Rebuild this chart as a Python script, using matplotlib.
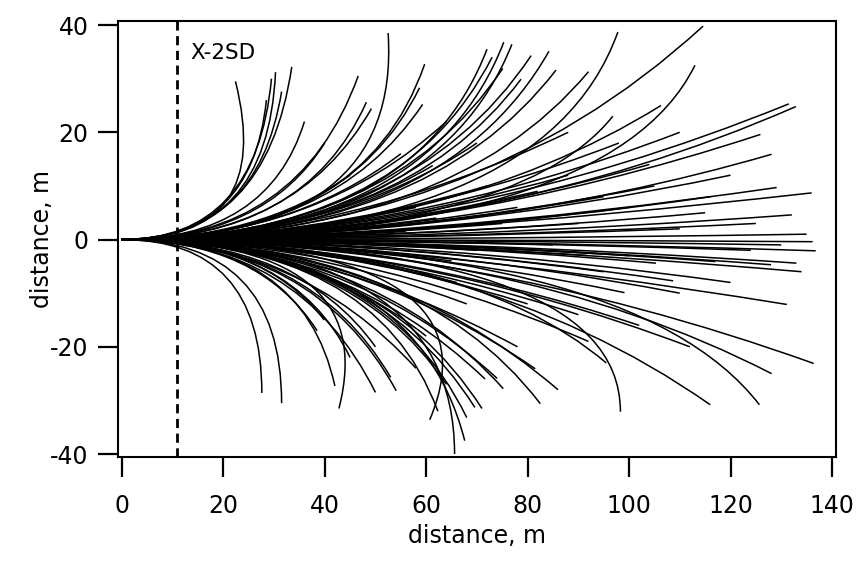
import matplotlib
matplotlib.use("Agg")
import matplotlib.pyplot as plt
from matplotlib.path import Path
from matplotlib.patches import PathPatch

# ---- data: end point of each track (m) and bend of the track (control-point fraction) ----
end_x = [22.4, 30.3, 29.5, 31.5, 33.5, 28.5, 46.6, 48.2, 49.2, 52.5,
         59.7, 58.7, 59.3, 61.3, 75.3, 76.9, 75.1, 80.7, 84.2, 85.6,
         78.7, 92.0, 97.8, 96.8, 114.6, 106.3, 113.0, 131.5, 132.9, 125.9,
         128.1, 129.1, 136.0, 116.2, 132.1,
         136.2, 136.8, 133.0, 117.0, 128.0, 105.3, 108.7, 99.1, 131.1,
         62.0, 70.0, 78.0, 85.0, 90.0, 95.0, 100.0, 110.0, 120.0, 88.0,
         72.0, 66.0, 80.0, 104.0, 120.0, 56.0, 92.0,
         135.0, 130.0, 125.0, 100.0, 95.0, 110.0, 115.0, 75.0, 65.0, 58.0,
         82.0, 68.0, 90.0, 105.0, 124.0, 134.0, 98.0, 110.0, 88.0, 70.0,
         64.0, 55.0, 45.0, 40.0, 36.0, 73.0, 72.0,
         136.4, 128.1, 125.7, 116.0, 98.3, 95.5, 81.5, 82.5, 75.2, 74.0,
         71.0, 69.6, 68.0, 67.6, 65.6, 60.7, 54.1, 62.3, 71.6, 27.6,
         31.5, 42.0, 42.8, 50.0, 39.9, 38.5, 53.0,
         102.0, 112.0, 92.0, 60.0, 50.0, 45.0, 64.0, 58.0, 86.0, 78.0]
end_y = [29.5, 31.2, 30.0, 27.6, 32.2, 26.0, 30.5, 25.6, 24.4, 38.5,
         32.7, 28.3, 25.2, 13.8, 36.8, 36.4, 31.9, 34.3, 35.1, 31.6,
         29.9, 31.3, 38.7, 23.0, 39.8, 25.0, 32.5, 25.3, 24.8, 19.6,
         15.9, 9.7, 8.7, 8.0, 4.6,
         -0.4, -2.1, -4.4, -4.1, -4.7, -4.4, -7.7, -9.9, -12.1,
         4.0, -2.0, 6.0, -1.0, 3.0, -6.0, 6.0, 2.0, -8.0, 12.0,
         10.0, -8.0, -12.0, 14.0, 12.0, 1.5, -3.0,
         1.0, -1.0, 3.0, -3.0, 8.0, -10.0, 5.0, 3.0, -4.0, 6.0,
         9.0, -12.0, -14.0, 10.0, -2.0, -6.0, 18.0, 20.0, 20.0, 18.0,
         22.0, 16.0, 12.0, 18.0, 22.0, 34.0, 35.5,
         -23.1, -25.0, -30.8, -30.8, -32.1, -23.0, -24.1, -30.6, -27.8, -25.9,
         -31.5, -31.3, -33.2, -37.5, -40.0, -33.6, -28.2, -32.0, -26.0, -28.6,
         -30.5, -27.3, -31.5, -28.5, -15.0, -17.0, -25.7,
         -16.0, -20.0, -19.0, -18.0, -20.0, -22.0, -27.0, -24.0, -28.0, -20.0]
bend = [1.35, 0.95, 0.9, 0.85, 0.85, 0.9, 0.75, 0.75, 0.7, 1.05,
        0.8, 0.75, 0.7, 0.6, 0.8, 0.8, 0.7, 0.7, 0.75, 0.7,
        0.7, 0.7, 0.85, 0.8, 0.6, 0.6, 0.85, 0.5, 0.55, 0.5,
        0.55, 0.45, 0.4, 0.5, 0.5,
        0.5, 0.5, 0.5, 0.5, 0.5, 0.5, 0.5, 0.5, 0.4,
        0.5, 0.5, 0.5, 0.5, 0.5, 0.5, 0.5, 0.5, 0.5, 0.5,
        0.5, 0.5, 0.5, 0.5, 0.5, 0.5, 0.5,
        0.5, 0.5, 0.5, 0.5, 0.5, 0.5, 0.5, 0.5, 0.5, 0.5,
        0.5, 0.5, 0.5, 0.5, 0.5, 0.45, 0.5, 0.5, 0.5, 0.6,
        0.6, 0.6, 0.6, 0.7, 0.8, 0.75, 0.8,
        0.5, 0.6, 0.8, 0.6, 1.0, 0.7, 0.55, 0.7, 0.65, 0.6,
        0.7, 0.7, 0.75, 0.85, 1.0, 1.25, 0.7, 0.8, 0.6, 1.0,
        1.0, 0.85, 1.2, 0.7, 0.7, 0.7, 0.7,
        0.5, 0.5, 0.5, 0.6, 0.7, 0.75, 0.7, 0.6, 0.6, 0.5]

x_ticks = [0, 20, 40, 60, 80, 100, 120, 140]
y_ticks = [-40, -20, 0, 20, 40]
sd_line_x = 10.9
sd_label = "X-2SD"
axis_label = "distance, m"

plt.rcParams['font.family'] = ['DejaVu Sans']
plt.rcParams['axes.unicode_minus'] = False

fig = plt.figure(figsize=(8.63, 5.61), dpi=100)
ax = fig.add_axes([118.3 / 863, 1 - 457.3 / 561, (836 - 118.3) / 863, (457.3 - 21) / 561])

for X, Y, k in zip(end_x, end_y, bend):
    path = Path([(0, 0), (k * X, 0), (X, Y)], [Path.MOVETO, Path.CURVE3, Path.CURVE3])
    ax.add_patch(PathPatch(path, fill=False, edgecolor='black', lw=1.1))

ax.axvline(sd_line_x, color='black', lw=2.0, linestyle=(0, (3.3, 2.0)))
ax.text(13.5, 34.8, sd_label, fontsize=15.5, ha='left', va='center')

ax.set_xlim(-0.7, 140.8)
ax.set_ylim(-40.6, 40.75)
ax.set_xticks(x_ticks)
ax.set_yticks(y_ticks)
ax.tick_params(direction='out', length=14.5, width=1.6, labelsize=17)
ax.tick_params(axis='x', pad=12)
ax.tick_params(axis='y', pad=7)
for s in ax.spines.values():
    s.set_linewidth(1.5)
ax.set_xlabel(axis_label, fontsize=17)
ax.set_ylabel(axis_label, fontsize=17)
ax.xaxis.set_label_coords(0.5, -0.152)
ax.yaxis.set_label_coords(-0.09, 0.5)

fig.savefig("out.png", dpi=100)
